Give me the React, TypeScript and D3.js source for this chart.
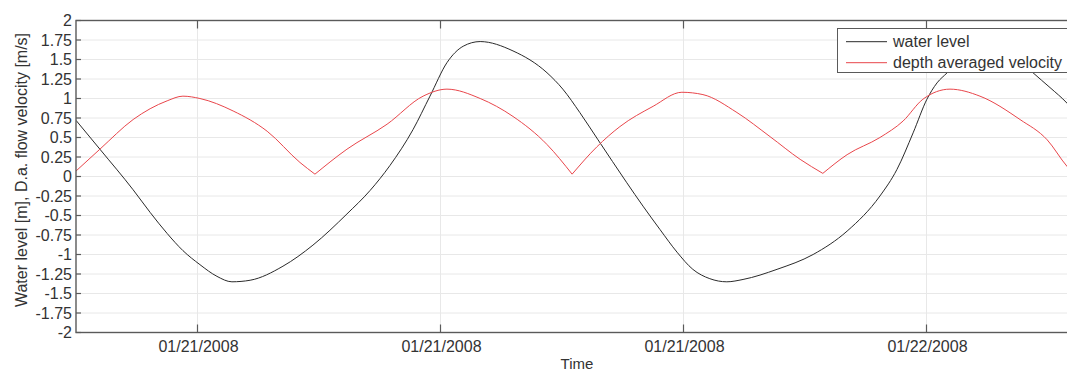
import React, { useEffect, useRef } from 'react';
import * as d3 from 'd3';

// hours after 2008-01-21 00:00
const levelHours = [3.0, 3.59, 4.41, 4.83, 5.25, 5.64, 6.06, 6.48, 6.85, 7.3, 8.11, 8.85, 9.69, 10.26, 10.75, 11.32, 11.74, 12.16, 12.56, 12.98, 13.79, 14.63, 15.02, 15.44, 15.89, 16.6, 17.0, 17.42, 17.84, 18.23, 18.65, 19.07, 19.47, 20.31, 21.2, 22.04, 22.85, 23.27, 23.67, 24.01, 24.26, 24.51, 24.9, 25.32, 25.74, 26.19, 26.63, 27.05, 27.47, 27.67];
const levelValues = [0.72, 0.35, -0.17, -0.46, -0.73, -0.95, -1.13, -1.28, -1.35, -1.33, -1.15, -0.88, -0.48, -0.18, 0.14, 0.6, 1.03, 1.46, 1.67, 1.73, 1.61, 1.33, 1.12, 0.82, 0.47, -0.08, -0.38, -0.68, -0.97, -1.19, -1.31, -1.35, -1.32, -1.19, -1.0, -0.7, -0.25, 0.09, 0.56, 0.99, 1.2, 1.33, 1.55, 1.7, 1.72, 1.55, 1.33, 1.14, 0.94, 0.82];

const velHours = [3.0, 3.59, 4.41, 5.25, 5.64, 6.06, 6.88, 7.72, 8.53, 8.9, 9.69, 10.68, 11.57, 12.16, 12.98, 13.79, 14.63, 15.25, 15.86, 16.43, 17.25, 17.96, 18.48, 19.32, 20.14, 20.88, 21.44, 22.04, 22.85, 23.42, 23.91, 24.58, 25.32, 26.31, 26.98, 27.47, 27.67];
const velValues = [0.07, 0.35, 0.73, 0.97, 1.03, 1.0, 0.84, 0.58, 0.18, 0.03, 0.35, 0.67, 1.03, 1.12, 1.0, 0.77, 0.41, 0.03, 0.38, 0.64, 0.9, 1.08, 1.05, 0.82, 0.51, 0.22, 0.04, 0.28, 0.5, 0.71, 0.99, 1.12, 1.03, 0.73, 0.47, 0.13, 0.02];

const yTicks = [2, 1.75, 1.5, 1.25, 1, 0.75, 0.5, 0.25, 0, -0.25, -0.5, -0.75, -1, -1.25, -1.5, -1.75, -2];
const xTickHours = [6, 12, 18, 24];
const xTickLabels = ['01/21/2008', '01/21/2008', '01/21/2008', '01/22/2008'];
const legendLabels = ['water level', 'depth averaged velocity'];

const base = new Date(2008, 0, 21, 0, 0);
const toDate = (h: number) => new Date(base.getTime() + h * 3600 * 1000);

const App = () => {
  const svgRef = useRef<SVGSVGElement>(null);
  const width = 1067;
  const height = 371;

  useEffect(() => {
    const svg = d3.select(svgRef.current);
    svg.selectAll('*').remove();

    const left = 76, right = 1075, top = 20.5, bottom = 332.5;
    const font = 'Liberation Sans, Arial, sans-serif';
    const textColor = '#333';
    const axisColor = '#5a5a5a';

    const x = d3.scaleTime().domain([toDate(3), toDate(27 + 40 / 60)]).range([left, right]);
    const y = d3.scaleLinear().domain([-2, 2]).range([bottom, top]);

    svg.append('rect').attr('width', width).attr('height', height).attr('fill', '#fff');

    // grid
    svg.append('g').selectAll('line').data(yTicks).enter().append('line')
      .attr('x1', left).attr('x2', right)
      .attr('y1', d => y(d)).attr('y2', d => y(d))
      .attr('stroke', '#e8e8e8').attr('stroke-width', 1);
    svg.append('g').selectAll('line').data(xTickHours).enter().append('line')
      .attr('x1', d => x(toDate(d))).attr('x2', d => x(toDate(d)))
      .attr('y1', top).attr('y2', bottom)
      .attr('stroke', '#e8e8e8').attr('stroke-width', 1);

    const clip = svg.append('clipPath').attr('id', 'plotclip');
    clip.append('rect').attr('x', left).attr('y', top).attr('width', right - left).attr('height', bottom - top);

    const plot = svg.append('g').attr('clip-path', 'url(#plotclip)');

    const line = d3.line<[number, number]>()
      .x(d => x(toDate(d[0])))
      .y(d => y(d[1]))
      .curve(d3.curveMonotoneX);

    const level: [number, number][] = levelHours.map((h, i) => [h, levelValues[i]]);
    plot.append('path').attr('d', line(level))
      .attr('fill', 'none').attr('stroke', '#2a2a2a').attr('stroke-width', 1);

    // velocity: split at the sharp minima so each arc stays smooth
    const vel: [number, number][] = velHours.map((h, i) => [h, velValues[i]]);
    const segments: [number, number][][] = [];
    let cur: [number, number][] = [];
    vel.forEach((p, i) => {
      cur.push(p);
      const isMin = i > 0 && i < vel.length - 1 && p[1] < vel[i - 1][1] && p[1] < vel[i + 1][1];
      if (isMin) {
        segments.push(cur);
        cur = [p];
      }
    });
    segments.push(cur);
    segments.forEach(seg => {
      plot.append('path').attr('d', line(seg))
        .attr('fill', 'none').attr('stroke', '#e8464b').attr('stroke-width', 1);
    });

    // axes box
    svg.append('rect')
      .attr('x', left).attr('y', top).attr('width', right - left).attr('height', bottom - top)
      .attr('fill', 'none').attr('stroke', axisColor).attr('stroke-width', 1.4);

    // inward ticks
    svg.append('g').selectAll('line').data(xTickHours).enter().append('line')
      .attr('x1', d => x(toDate(d))).attr('x2', d => x(toDate(d)))
      .attr('y1', bottom).attr('y2', bottom - 8)
      .attr('stroke', axisColor).attr('stroke-width', 1.2);
    svg.append('g').selectAll('line').data(xTickHours).enter().append('line')
      .attr('x1', d => x(toDate(d))).attr('x2', d => x(toDate(d)))
      .attr('y1', top).attr('y2', top + 8)
      .attr('stroke', axisColor).attr('stroke-width', 1.2);
    svg.append('g').selectAll('line').data(yTicks).enter().append('line')
      .attr('x1', left).attr('x2', left + 5)
      .attr('y1', d => y(d)).attr('y2', d => y(d))
      .attr('stroke', axisColor).attr('stroke-width', 1.2);

    // y tick labels
    svg.append('g').selectAll('text').data(yTicks).enter().append('text')
      .attr('x', left - 4).attr('y', d => y(d)).attr('dy', '0.35em')
      .attr('text-anchor', 'end').attr('font-family', font).attr('font-size', 16)
      .attr('fill', textColor)
      .text(d => String(d));

    // x tick labels
    svg.append('g').selectAll('text').data(xTickHours).enter().append('text')
      .attr('x', d => x(toDate(d)) + 1).attr('y', 352)
      .attr('text-anchor', 'middle').attr('font-family', font).attr('font-size', 16)
      .attr('fill', textColor)
      .text((d, i) => xTickLabels[i]);

    svg.append('text')
      .attr('x', 577).attr('y', 369)
      .attr('text-anchor', 'middle').attr('font-family', font).attr('font-size', 15)
      .attr('fill', textColor)
      .text('Time');

    svg.append('text')
      .attr('transform', `translate(27, 170) rotate(-90)`)
      .attr('text-anchor', 'middle').attr('font-family', font).attr('font-size', 16)
      .attr('fill', textColor)
      .text('Water level [m], D.a. flow velocity [m/s]');

    // legend
    const lg = svg.append('g');
    lg.append('rect').attr('x', 837.5).attr('y', 28.5).attr('width', 240).attr('height', 44)
      .attr('fill', '#fff').attr('stroke', axisColor).attr('stroke-width', 1);
    const legendColors = ['#2a2a2a', '#e8464b'];
    legendLabels.forEach((lab, i) => {
      const cy = 41.7 + i * 21;
      lg.append('line').attr('x1', 846).attr('x2', 887).attr('y1', cy).attr('y2', cy)
        .attr('stroke', legendColors[i]).attr('stroke-width', 1);
      lg.append('text').attr('x', 893).attr('y', cy).attr('dy', '0.35em')
        .attr('font-family', font).attr('font-size', 16).attr('fill', textColor)
        .text(lab);
    });
  }, []);

  return (
    <svg ref={svgRef} width={width} height={height}
      style={{ position: 'absolute', left: 0, top: 0, display: 'block' }} />
  );
};

export default App;
